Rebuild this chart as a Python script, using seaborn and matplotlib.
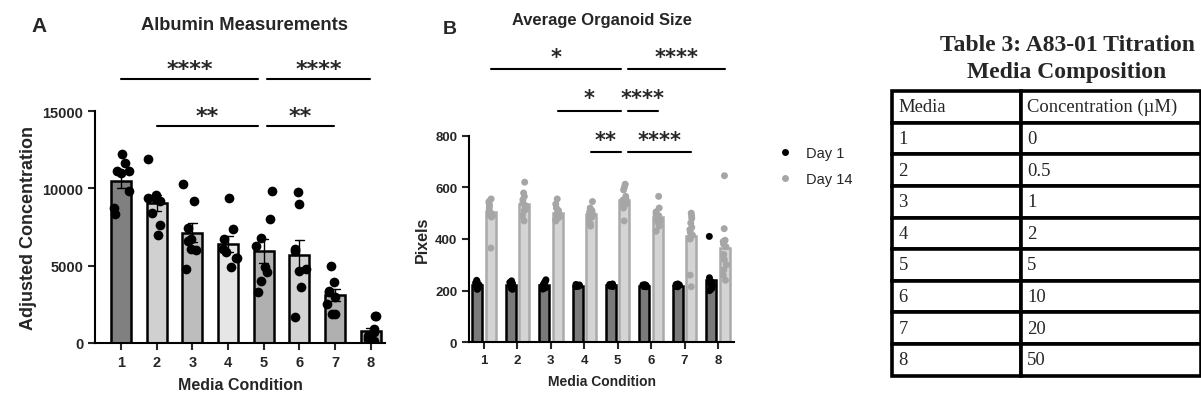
import seaborn as sns
import matplotlib.pyplot as plt
import pandas as pd
import numpy as np

# --- Data ---
# Panel A: albumin, 8 replicates per media condition
alb_c1 = [12200, 11650, 11150, 11000, 11100, 9800, 8700, 8350]
alb_c2 = [11900, 9600, 9350, 9300, 9200, 8400, 7600, 7000]
alb_c3 = [10250, 9200, 7450, 6700, 6600, 6000, 6100, 4800]
alb_c4 = [9400, 7350, 6700, 6100, 5900, 5500, 5500, 4900]
alb_c5 = [9830, 8010, 6820, 6280, 4560, 4890, 4020, 3270]
alb_c6 = [9770, 8970, 6070, 5960, 4670, 4800, 3590, 1660]
alb_c7 = [4990, 3960, 3380, 3270, 3000, 2520, 1870, 1900]
alb_c8 = [1750, 1750, 900, 700, 450, 150, 250, 50]

# Panel B: organoid size in pixels, day 1 and day 14
d1_c1 = [240, 235, 230, 225, 222, 218, 215, 212, 210, 205]
d1_c2 = [238, 232, 228, 224, 220, 218, 215, 212, 208, 205]
d1_c3 = [242, 236, 230, 226, 222, 218, 215, 212, 210, 206]
d1_c4 = [224, 222, 221, 220, 220, 219, 218, 218, 217, 216]
d1_c5 = [226, 224, 222, 221, 220, 220, 219, 218, 217, 216]
d1_c6 = [223, 222, 221, 220, 219, 218, 218, 217, 216, 215]
d1_c7 = [226, 224, 222, 221, 220, 219, 218, 217, 216, 215]
d1_c8 = [410, 250, 235, 230, 225, 220, 215, 210, 205, 200]

d14_c1 = [555, 545, 540, 530, 520, 510, 505, 500, 495, 490, 485, 365]
d14_c2 = [620, 578, 565, 552, 540, 530, 525, 520, 515, 510, 490, 470]
d14_c3 = [555, 535, 520, 510, 505, 500, 495, 490, 485, 480, 475, 470]
d14_c4 = [545, 520, 510, 505, 500, 498, 495, 490, 485, 480, 460, 450]
d14_c5 = [612, 600, 590, 565, 555, 550, 545, 540, 535, 530, 520, 470]
d14_c6 = [565, 520, 505, 495, 490, 485, 480, 475, 470, 465, 450, 430]
d14_c7 = [500, 490, 480, 462, 445, 436, 425, 415, 405, 400, 260, 215]
d14_c8 = [645, 440, 395, 390, 380, 370, 340, 320, 300, 280, 260, 240]

conditions = ['1', '2', '3', '4', '5', '6', '7', '8']
days = ['Day 1', 'Day 14']

# Table 3
table_media = ['1', '2', '3', '4', '5', '6', '7', '8']
table_conc = ['0', '0.5', '1', '2', '5', '10', '20', '50']

# --- Style ---
sns.set_theme(style="ticks")
plt.rcParams['font.family'] = ['Liberation Sans', 'DejaVu Sans']
plt.rcParams['axes.linewidth'] = 1.5
plt.rcParams['xtick.major.width'] = 1.5
plt.rcParams['ytick.major.width'] = 1.5
plt.rcParams['xtick.major.size'] = 5
plt.rcParams['ytick.major.size'] = 5
plt.rcParams['axes.edgecolor'] = 'black'

bar_cols_a = ['#808080', '#d0d0d0', '#bdbdbd', '#e6e6e6', '#b0b0b0', '#d3d3d3', '#b0b0b0', '#a8a8a8']

alb = [alb_c1, alb_c2, alb_c3, alb_c4, alb_c5, alb_c6, alb_c7, alb_c8]
df_a = pd.DataFrame({
    'cond': np.repeat(conditions, [len(v) for v in alb]),
    'value': np.concatenate(alb),
})

d1 = [d1_c1, d1_c2, d1_c3, d1_c4, d1_c5, d1_c6, d1_c7, d1_c8]
d14 = [d14_c1, d14_c2, d14_c3, d14_c4, d14_c5, d14_c6, d14_c7, d14_c8]
rows = []
for c, a, b in zip(conditions, d1, d14):
    rows += [(c, 'Day 1', v) for v in a]
    rows += [(c, 'Day 14', v) for v in b]
df_b = pd.DataFrame(rows, columns=['cond', 'day', 'px'])

np.random.seed(3)
fig = plt.figure(figsize=(12.01, 4.02), dpi=100)

# --- Panel A ---
ax1 = fig.add_axes([0.0791, 0.1443, 0.2415, 0.577])
sns.barplot(data=df_a, x='cond', y='value', hue='cond', palette=bar_cols_a,
            order=conditions, legend=False, width=0.56, errorbar='se',
            capsize=0.25, err_kws={'color': 'black', 'linewidth': 1.0},
            edgecolor='black', linewidth=1.8, ax=ax1)
sns.stripplot(data=df_a, x='cond', y='value', order=conditions, color='black',
              size=7, jitter=0.27, ax=ax1)
ax1.set_ylim(0, 15000)
ax1.set_xlim(-0.73, 7.4)
ax1.set_yticks([0, 5000, 10000, 15000])
ax1.set_xlabel('Media Condition', fontsize=11.5, fontweight='bold', labelpad=6)
ax1.set_ylabel('Adjusted Concentration', fontsize=13, fontweight='bold', labelpad=4)
ax1.tick_params(labelsize=10.5)
for lab in ax1.get_xticklabels() + ax1.get_yticklabels():
    lab.set_fontweight('bold')
sns.despine(ax=ax1)


def bracket(ax, x0, x1, y, ty, text, size):
    ax.plot([x0, x1], [y, y], color='black', lw=1.5, clip_on=False)
    ax.text((x0 + x1) / 2, ty, text, ha='center', va='center', fontsize=size,
            fontweight='bold', family='DejaVu Sans', clip_on=False)

bracket(ax1, 0, 3.85, 17070, 17700, '****', 16)
bracket(ax1, 4.1, 6.97, 17070, 17700, '****', 16)
bracket(ax1, 1, 3.85, 14050, 14650, '**', 16)
bracket(ax1, 4.1, 5.97, 14050, 14650, '**', 16)

fig.text(39 / 1201, 1 - 27 / 402, 'A', fontsize=15, fontweight='bold', va='center', ha='center')
fig.text(245 / 1201, 1 - 25 / 402, 'Albumin Measurements', fontsize=13.2,
         fontweight='bold', ha='center', va='center')

# --- Panel B ---
ax2 = fig.add_axes([0.3905, 0.146, 0.2207, 0.514])
sns.barplot(data=df_b, x='cond', y='px', hue='day', order=conditions, hue_order=days,
            palette=['#7a7a7a', '#d4d4d4'], width=0.8, gap=0.25, errorbar=None,
            linewidth=1.8, legend=False, ax=ax2)
for cont, ec in zip(ax2.containers, ['black', '#aaaaaa']):
    for p in cont:
        p.set_edgecolor(ec)
sns.stripplot(data=df_b, x='cond', y='px', hue='day', order=conditions, hue_order=days,
              palette=['black', '#a6a6a6'], dodge=True, size=5, jitter=0.12, ax=ax2)
ax2.set_ylim(0, 800)
ax2.set_xlim(-0.45, 7.48)
ax2.set_yticks([0, 200, 400, 600, 800])
ax2.set_xlabel('Media Condition', fontsize=10, fontweight='bold', labelpad=6)
ax2.set_ylabel('Pixels', fontsize=11.5, fontweight='bold', labelpad=4)
ax2.tick_params(labelsize=9.5)
for lab in ax2.get_xticklabels() + ax2.get_yticklabels():
    lab.set_fontweight('bold')
sns.despine(ax=ax2)

h, l = ax2.get_legend_handles_labels()
ax2.legend(h[:2], l[:2], loc='center left', bbox_to_anchor=(757 / 1201, 1 - 167 / 402),
           bbox_transform=fig.transFigure, frameon=False, fontsize=10.5,
           handletextpad=0.45, labelspacing=0.85, markerscale=1.0)

bracket(ax2, 0.2, 4.1, 1058, 1105, '*', 15)
bracket(ax2, 4.3, 7.2, 1058, 1105, '****', 15)
bracket(ax2, 2.2, 4.1, 897, 945, '*', 15)
bracket(ax2, 4.3, 5.2, 897, 945, '****', 15)
bracket(ax2, 3.2, 4.1, 738, 785, '**', 15)
bracket(ax2, 4.3, 6.2, 738, 785, '****', 15)

fig.text(450 / 1201, 1 - 30 / 402, 'B', fontsize=14, fontweight='bold', va='center', ha='center')
fig.text(602 / 1201, 1 - 21 / 402, 'Average Organoid Size', fontsize=11.9,
         fontweight='bold', ha='center', va='center')

# --- Table 3 ---
ax3 = fig.add_axes([892 / 1201, (402 - 376.7) / 402, 309 / 1201, 284.7 / 402])
ax3.axis('off')
cells = [['Media', 'Concentration (\u00b5M)']] + [[m, c] for m, c in zip(table_media, table_conc)]
tab = ax3.table(cellText=cells, cellLoc='left', bbox=[0, 0, 1, 1], colWidths=[0.417, 0.583])
tab.auto_set_font_size(False)
for (r, c), cell in tab.get_celld().items():
    cell.set_linewidth(2.6)
    cell.set_edgecolor('black')
    cell.PAD = 0.05 if c == 0 else 0.035
    cell.get_text().set_fontfamily('Liberation Serif')
    cell.get_text().set_fontsize(13.4)
fig.text(1067 / 1201, 1 - 59 / 402, 'Table 3: A83-01 Titration\nMedia Composition',
         family='Liberation Serif', fontweight='bold', fontsize=17, ha='center',
         va='center', linespacing=1.35)

plt.savefig('out.png', dpi=100)
plt.close()
